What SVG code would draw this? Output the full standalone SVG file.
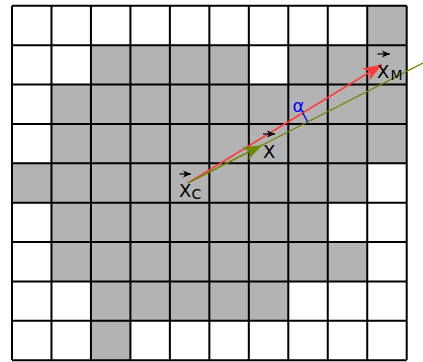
<svg xmlns="http://www.w3.org/2000/svg" width="423" height="362" viewBox="0 0 423 362">
<style>
.cell{fill:#b3b3b3}
.grid{stroke:#000;stroke-width:2;fill:none}
.lbl{font-family:"DejaVu Sans",sans-serif;fill:#000}
.vec{stroke:#000;stroke-width:1.2}
</style>
<defs>
<marker id="redHead" markerUnits="userSpaceOnUse" markerWidth="24" markerHeight="20" refX="0" refY="0" viewBox="-20 -10 24 20" orient="auto">
<path d="M0,0 L-19,-7 L-14,0 L-19,7 Z" fill="#ff3b3b"/>
</marker>
<marker id="greenHead" markerUnits="userSpaceOnUse" markerWidth="24" markerHeight="20" refX="0" refY="0" viewBox="-20 -10 24 20" orient="auto">
<path d="M0,0 L-19,-7 L-14,0 L-19,7 Z" fill="#6f8a00"/>
</marker>
<marker id="vecHead" markerUnits="userSpaceOnUse" markerWidth="10" markerHeight="8" refX="0" refY="0" viewBox="-8 -4 10 8" orient="auto">
<path d="M0,0 L-8,-3.5 L-6,0 L-8,3.5 Z" fill="#000"/>
</marker>
</defs>
<rect width="423" height="362" fill="#fff"/>
<g id="cells">
<rect class="cell" x="367.23" y="5.8" width="39.47" height="39.37"/>
<rect class="cell" x="90.94" y="45.17" width="157.88" height="39.37"/>
<rect class="cell" x="288.29" y="45.17" width="118.41" height="39.37"/>
<rect class="cell" x="51.47" y="84.54" width="355.23" height="78.74"/>
<rect class="cell" x="12" y="163.28" width="355.23" height="39.37"/>
<rect class="cell" x="51.47" y="202.65" width="276.29" height="39.37"/>
<rect class="cell" x="51.47" y="242.02" width="315.76" height="39.37"/>
<rect class="cell" x="90.94" y="281.39" width="197.35" height="39.37"/>
<rect class="cell" x="90.94" y="320.76" width="39.47" height="39.37"/>
</g>
<g id="grid" class="grid">
<path d="M12,5.8V360.1M51.47,5.8V360.1M90.94,5.8V360.1M130.41,5.8V360.1M169.88,5.8V360.1M209.35,5.8V360.1M248.82,5.8V360.1M288.29,5.8V360.1M327.76,5.8V360.1M367.23,5.8V360.1M406.7,5.8V360.1"/>
<path d="M12,5.8H406.7M12,45.17H406.7M12,84.54H406.7M12,123.91H406.7M12,163.28H406.7M12,202.65H406.7M12,242.02H406.7M12,281.39H406.7M12,320.76H406.7M12,360.13H406.7"/>
</g>
<g id="connectors">
<line x1="188" y1="183" x2="382" y2="64.5" stroke="#ff3b3b" stroke-width="1.5" marker-end="url(#redHead)"/>
<line x1="188" y1="183" x2="430" y2="59.4" stroke="#6f8a00" stroke-width="1.3"/>
<line x1="188" y1="183" x2="262" y2="145.2" stroke="#6f8a00" stroke-width="1.3" marker-end="url(#greenHead)"/>
<path d="M302.5,112.7 A134,134 0 0 1 307.6,122" fill="none" stroke="#0000ff" stroke-width="1.3"/>
</g>
<g id="label-xc">
<line class="vec" x1="179.5" y1="174" x2="191" y2="174" marker-end="url(#vecHead)"/>
<text class="lbl" x="179" y="197.3" font-size="18">X</text>
<text class="lbl" x="191.5" y="199" font-size="14">C</text>
</g>
<g id="label-x">
<line class="vec" x1="263" y1="134" x2="275" y2="134" marker-end="url(#vecHead)"/>
<text class="lbl" x="263" y="157.5" font-size="18">X</text>
</g>
<g id="label-xm">
<line class="vec" x1="377.5" y1="54" x2="390" y2="54" marker-end="url(#vecHead)"/>
<text class="lbl" x="377" y="77.5" font-size="18">X</text>
<text class="lbl" x="390.5" y="80" font-size="14">M</text>
</g>
<g id="label-alpha">
<text x="292.5" y="111.7" font-size="18" font-family="DejaVu Sans, sans-serif" fill="#0000ff">α</text>
</g>
</svg>
